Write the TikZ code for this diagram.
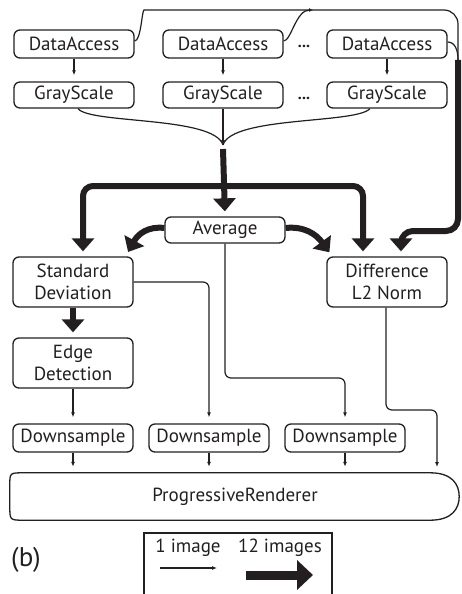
\documentclass[tikz,border=0pt]{standalone}
\usepackage{fontspec}
\setmainfont{PT Sans}
\usetikzlibrary{arrows.meta,calc}
\definecolor{ink}{HTML}{231F20}
\begin{document}
\begin{tikzpicture}[x=1pt,y=-1pt,
  box/.style={draw=ink, line width=1.3pt, rounded corners=6pt, minimum width=120pt,
    inner sep=0pt, align=center, text=ink, font=\fontsize{19}{22}\selectfont},
  lbl/.style={text=ink, font=\fontsize{19}{22}\selectfont},
  thin/.style={draw=ink, line width=1.2pt, -{Latex[length=5pt,width=4pt]}, shorten >=6pt},
  wire/.style={draw=ink, line width=1.2pt},
  fat/.style={draw=ink, line width=6pt, -{Triangle[length=13pt,width=22pt]}, shorten >=5pt},
  fatline/.style={draw=ink, line width=6pt}
]
\useasboundingbox (0,0) rectangle (461,594);

% sources
\node[box, minimum height=28pt] (da1) at (74,44)  {DataAccess};
\node[box, minimum height=28pt] (da2) at (223,44) {DataAccess};
\node[box, minimum height=28pt] (da3) at (387,44) {DataAccess};
\node[box, minimum height=26pt] (gs1) at (74,95)  {GrayScale};
\node[box, minimum height=26pt] (gs2) at (223,95) {GrayScale};
\node[box, minimum height=26pt] (gs3) at (387,95) {GrayScale};
\node[lbl, font=\fontsize{16}{20}\selectfont] (dots1) at (304,46) {\textbf{...}};
\node[lbl, font=\fontsize{16}{20}\selectfont] (dots2) at (304,98) {\textbf{...}};

% filters
\node[box, minimum height=26pt] (avg) at (225,230) {Average};
\node[box, minimum height=50pt] (std) at (73,282) {Standard\\Deviation};
\node[box, minimum height=50pt] (dif) at (387,282) {Difference\\L2 Norm};
\node[box, minimum height=50pt] (edg) at (73,363) {Edge\\Detection};
\node[box, minimum height=28pt] (ds1) at (73,438)  {Downsample};
\node[box, minimum height=28pt] (ds2) at (209,438) {Downsample};
\node[box, minimum height=28pt] (ds3) at (345,438) {Downsample};

% renderer
\node[lbl, minimum width=450pt, minimum height=47pt] (pr) at (235,496.5) {ProgressiveRenderer};
\draw[ink, line width=1.3pt]
  ($(pr.north west)+(14,0)$) -- ($(pr.north east)+(-30,0)$)
  .. controls ($(pr.north east)+(-8,0)$) and ($(pr.east)+(-1,-12)$) .. ($(pr.east)+(-1,0)$)
  .. controls ($(pr.east)+(-1,12)$) and ($(pr.south east)+(-8,0)$) .. ($(pr.south east)+(-30,0)$)
  -- ($(pr.south west)+(14,0)$)
  .. controls ($(pr.south west)+(0,0)$) .. ($(pr.south west)+(0,-14)$)
  -- ($(pr.north west)+(0,12)$)
  .. controls ($(pr.north west)+(0,0)$) .. ($(pr.north west)+(14,0)$);

% junction points
\coordinate (top) at (458,10);
\coordinate (jr) at (458,60);
\coordinate (m) at (223,145);
\coordinate (mb) at (223,149);
\coordinate (br) at (223,186);

% single-image links
\foreach \i in {1,2,3} {
  \draw[thin] (da\i.south) -- (gs\i.north);
  \draw[thin] (ds\i.south) -- (ds\i.south |- pr.north);
}
\draw[thin] (edg.south) -- (ds1.north);

% data access fan-in along the top
\draw[wire, rounded corners=14pt] ($(da1.east)+(0,-3)$) .. controls (141,41) and (142,10) .. (158,10) -- (top) -- (jr);
\draw[wire, -{Latex[length=4pt,width=4pt]}] ($(da2.east)+(0,-3)$) .. controls (291,41) and (296,10) .. (313,10);
\draw[wire] ($(da3.east)+(0,-2)$) .. controls (455,42) and (458,50) .. (jr);

% grayscale fan-in
\draw[wire] ($(gs1.south)+(4,0)$) .. controls (90,124) and (214,116) .. (m);
\draw[wire] ($(gs3.south)+(-17,0)$) .. controls (356,124) and (232,116) .. (m);
\draw[wire, -{Latex[length=5pt,width=4pt]}] (gs2.south) -- (m);

% twelve-image streams
\draw[fat] (mb) -- (avg.north);
\draw[fat, rounded corners=10pt] (br) -| ($(std.north)+(10,0)$);
\draw[fat, rounded corners=10pt] (br) -| ($(dif.north)+(-24,0)$);
\draw[fat] ($(avg.west)+(0,-2)$) .. controls (148,226) and (138,234) .. ($(std.north east)+(-8,0)$);
\draw[fat] ($(avg.east)+(0,-2)$) .. controls (304,226) and (316,234) .. ($(dif.north west)+(6,0)$);
\draw[fat, rounded corners=12pt] (jr) -- (458,231) -- (401,231) -- ($(dif.north)+(14,0)$);
\draw[fat] (std.south) -- (edg.north);

% single-image streams to downsampling
\draw[thin, rounded corners=6pt] (std.east) -| (ds2.north);
\draw[thin, rounded corners=6pt] (avg.south) |- (345,378) -- (ds3.north);
\draw[thin, rounded corners=6pt] ($(dif.south)+(-1,0)$) |- (437,410) -- (437,473);

% legend
\node[text=ink, font=\fontsize{27}{30}\selectfont] (b) at (26,560) {(b)};
\draw[ink, line width=1.3pt] (144,600) -- (144,533) -- (332,533) -- (332,600);
\node[lbl] (l1) at (188,548) {1 image};
\node[lbl] (l12) at (280,548) {12 images};
\coordinate (a1) at (160,568);
\coordinate (a2) at (217,568);
\coordinate (b1) at (246,575);
\coordinate (b2) at (313,575);
\draw[wire, -{Latex[length=5pt,width=4pt]}] (a1) -- (a2);
\draw[ink, line width=9pt, -{Triangle[length=16pt,width=29pt]}] (b1) -- (b2);
\end{tikzpicture}
\end{document}
